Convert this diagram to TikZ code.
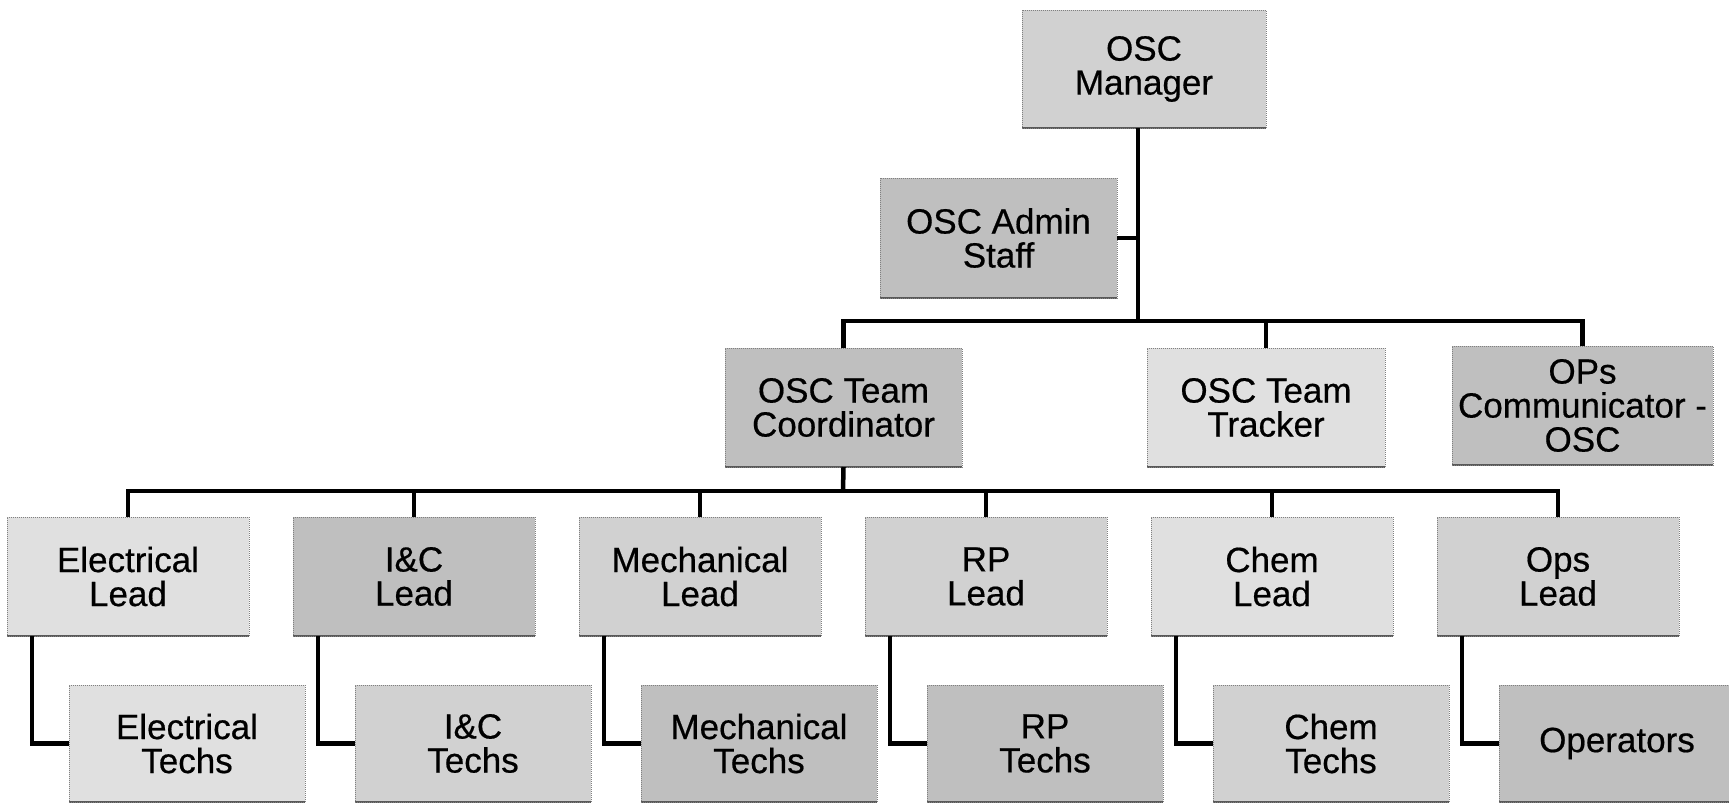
\documentclass[tikz,border=0pt]{standalone}
\usepackage{fontspec}
\setmainfont{Liberation Sans}[BoldFont=Liberation Sans, BoldFeatures={FakeBold=0.5}]
\tikzset{
  orgbox/.style={draw=black!50, line width=1pt, densely dotted, fill=black!18,
    inner sep=0pt, outer sep=0pt, anchor=north west, align=center, text=black,
    font=\fontsize{35}{34}\selectfont\bfseries,
    path picture={\draw[solid, black!65, line width=2.5pt]
      (path picture bounding box.south west) -- (path picture bounding box.south east);}},
  lightbox/.style={orgbox, fill=black!12},
  darkbox/.style={orgbox, fill=black!25},
  leadbox/.style={minimum width=242pt, minimum height=119pt},
  techbox/.style={minimum width=236pt, minimum height=117pt},
  conn/.style={draw=black, line width=4.5pt, line join=miter}
}
\begin{document}
\begin{tikzpicture}[x=1pt, y=-1pt]
\useasboundingbox (0,0) rectangle (1729,806);
\fill[white] (0,0) rectangle (1729,806);

% top levels
\node[orgbox, minimum width=244pt, minimum height=118pt] (mgr) at (1022,10) {OSC\\Manager};
\node[darkbox, minimum width=237pt, minimum height=120pt] (adm) at (880,178) {OSC Admin\\Staff};
\node[darkbox, minimum width=237pt, minimum height=119pt] (coord) at (725,348) {OSC Team\\Coordinator};
\node[lightbox, minimum width=238pt, minimum height=119pt] (track) at (1147,348) {OSC Team\\Tracker};
\node[darkbox, minimum width=261pt, minimum height=119pt] (comm) at (1452,346) {OPs\\Communicator -\\OSC};

% leads
\node[lightbox, leadbox] (l1) at (7,517) {Electrical\\Lead};
\node[darkbox, leadbox] (l2) at (293,517) {I\&C\\Lead};
\node[orgbox, leadbox] (l3) at (579,517) {Mechanical\\Lead};
\node[orgbox, leadbox] (l4) at (865,517) {RP\\Lead};
\node[lightbox, leadbox] (l5) at (1151,517) {Chem\\Lead};
\node[orgbox, leadbox] (l6) at (1437,517) {Ops\\Lead};

% techs
\node[lightbox, techbox] (t1) at (69,685) {Electrical\\Techs};
\node[orgbox, techbox] (t2) at (355,685) {I\&C\\Techs};
\node[darkbox, techbox] (t3) at (641,685) {Mechanical\\Techs};
\node[darkbox, techbox] (t4) at (927,685) {RP\\Techs};
\node[orgbox, techbox] (t5) at (1213,685) {Chem\\Techs};
\node[darkbox, techbox] (t6) at (1499,685) {Operators};

% junctions
\coordinate (j1) at (1138,321);
\coordinate (j2) at (843,491);

% connectors
\draw[conn] (mgr.south -| j1) -- (j1);
\draw[conn] (adm.east) -- (adm.east -| j1);
\draw[conn] (coord.north) -- (coord.north |- j1) -- (comm.north |- j1) -- (comm.north);
\draw[conn] (track.north) -- (track.north |- j1);
\draw[conn] (coord.south) -- (j2);
\draw[conn] (l1.north) -- (l1.north |- j2) -- (l6.north |- j2) -- (l6.north);
\foreach \n in {l2,l3,l4,l5} {\draw[conn] (\n.north) -- (\n.north |- j2);}
\foreach \a/\b in {l1/t1,l2/t2,l3/t3,l4/t4,l5/t5,l6/t6} {
  \draw[conn] ([xshift=25pt]\a.south west) |- (\b.west);
}
\end{tikzpicture}
\end{document}
